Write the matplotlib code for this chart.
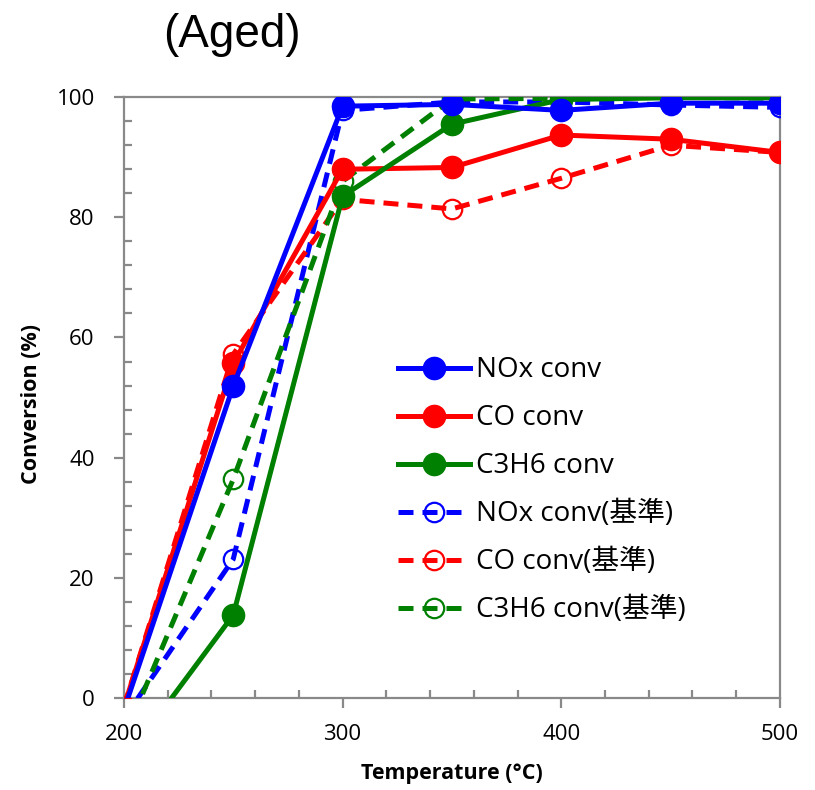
import matplotlib
matplotlib.use("Agg")
import matplotlib.pyplot as plt
from matplotlib.ticker import MultipleLocator

temps = [200, 250, 300, 350, 400, 450, 500]

nox_conv = [-2.0, 51.9, 98.5, 98.8, 97.8, 99.0, 99.0]
co_conv = [-1.5, 55.7, 88.0, 88.3, 93.7, 93.0, 90.8]
c3h6_conv = [-10.7, 13.8, 83.5, 95.5, 99.6, 99.9, 99.9]
nox_ref = [-3.4, 23.1, 97.8, 99.2, 99.2, 98.7, 98.3]
co_ref = [-1.5, 57.2, 83.0, 81.4, 86.5, 92.0, 90.8]
c3h6_ref = [-6.7, 36.4, 86.0, 99.7, 99.8, 100.0, 99.8]

labels = ["NOx conv", "CO conv", "C3H6 conv",
          "NOx conv(基準)", "CO conv(基準)", "C3H6 conv(基準)"]

FAM = ["Open Sans", "Noto Sans CJK JP", "DejaVu Sans"]
plt.rcParams['font.family'] = FAM

fig = plt.figure(figsize=(8.15, 7.90), dpi=100)
ax = fig.add_axes([0.152, 0.1165, 0.805, 0.7605])

lw = 3.6
solid_ms = 16
open_ms = 14

h = []
for vals, c, lab in [(nox_ref, 'blue', labels[3]), (co_ref, 'red', labels[4]), (c3h6_ref, 'green', labels[5])]:
    l, = ax.plot(temps, vals, color=c, lw=lw, linestyle=(0, (3, 1.8)),
                 marker='o', ms=open_ms, mfc='none', mec=c, mew=1.6, label=lab, zorder=3)
    h.append(l)
sol = []
for vals, c, lab, z in [(nox_conv, 'blue', labels[0], 6), (co_conv, 'red', labels[1], 4), (c3h6_conv, 'green', labels[2], 5)]:
    l, = ax.plot(temps, vals, color=c, lw=lw, linestyle='-',
                 marker='o', ms=solid_ms, mfc=c, mec=c, label=lab, zorder=z)
    sol.append(l)

ax.set_xlim(200, 500)
ax.set_ylim(0, 100)
ax.xaxis.set_major_locator(MultipleLocator(100))
ax.xaxis.set_minor_locator(MultipleLocator(20))
ax.yaxis.set_major_locator(MultipleLocator(20))
ax.yaxis.set_minor_locator(MultipleLocator(4))

gray = '#898989'
for s in ax.spines.values():
    s.set_color(gray)
    s.set_linewidth(1.6)

ax.tick_params(axis='both', which='major', direction='out', length=7, width=1.6,
               color=gray, labelsize=16, labelcolor='black')
ax.tick_params(axis='y', which='major', pad=14)
ax.tick_params(axis='x', which='major', pad=12)
ax.tick_params(axis='both', which='minor', direction='in', length=6, width=1.6, color=gray)
ax.tick_params(axis='x', which='both', top=False)
ax.tick_params(axis='y', which='both', right=False)

ax.set_xlabel("Temperature (°C)", fontsize=15.5, fontweight='bold')
ax.set_ylabel("Conversion (%)", fontsize=15.5, fontweight='bold')
ax.xaxis.set_label_coords(0.5, -0.108)
ax.yaxis.set_label_coords(-0.125, 0.49)

fig.text(163/815, 1 - 35/790, "(Aged)", fontsize=33, family=["Liberation Sans", "DejaVu Sans"],
         ha='left', va='center')

handles = sol + h
leg = ax.legend(handles=handles, labels=labels, loc='center left',
                bbox_to_anchor=(0.4177, 0.3455), frameon=False, fontsize=20,
                handlelength=2.6, handletextpad=0.22, labelspacing=0.72,
                borderaxespad=0, borderpad=0)

fig.savefig("out.png", dpi=100)
